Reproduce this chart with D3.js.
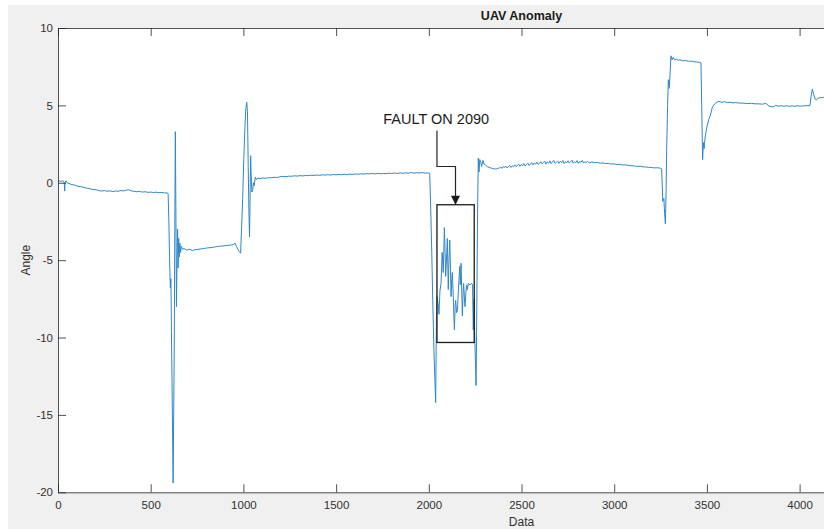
<!DOCTYPE html>
<html>
<head>
<meta charset="utf-8">
<script src="https://cdn.jsdelivr.net/npm/d3@7"></script>
<style>
  html, body { margin: 0; padding: 0; background: #ffffff; }
  svg { display: block; }
  text { font-family: "Liberation Sans", Arial, Helvetica, sans-serif; }
</style>
</head>
<body>
<svg id="chart" width="824" height="529"></svg>
<script>
// ---- chart data ----
const chartTitle = "UAV Anomaly";
const xLabel = "Data";
const yLabel = "Angle";
const xDomain = [0, 5000];
const yDomain = [-20, 10];
const xTicks = [0, 500, 1000, 1500, 2000, 2500, 3000, 3500, 4000];
const yTicks = [-20, -15, -10, -5, 0, 5, 10];

// sample index, angle (degrees)
const angleTrace = [
  [0,0.10],[8,0.12],[16,0.08],[24,0.13],[30,0.10],[34,-0.05],[36,-0.54],[38,0.05],[44,0.12],[49,0.00],
  [60,-0.05],[75,-0.12],[90,-0.15],[105,-0.22],[120,-0.25],[135,-0.28],[147,-0.32],[160,-0.36],[175,-0.40],
  [190,-0.43],[205,-0.45],[220,-0.50],[237,-0.54],[250,-0.50],[265,-0.55],[280,-0.52],[295,-0.57],[310,-0.53],
  [325,-0.55],[340,-0.50],[355,-0.53],[370,-0.47],[381,-0.45],[395,-0.52],[410,-0.55],[425,-0.58],[440,-0.56],
  [455,-0.60],[470,-0.58],[485,-0.62],[500,-0.60],[515,-0.63],[530,-0.61],[545,-0.64],[560,-0.62],[575,-0.66],
  [588,-0.65],[594,-0.70],
  [598,-2.5],[602,-5.0],[606,-6.8],[609,-6.2],[612,-9.6],[616,-14.0],[621,-19.4],[624,-15.0],[627,-10.6],
  [630,-3.0],[633,3.3],[636,-2.0],[639,-8.0],[642,-5.0],[645,-3.0],[648,-5.5],[651,-3.6],[654,-4.8],[657,-3.9],
  [661,-4.5],[665,-4.1],[670,-4.3],[680,-4.25],[695,-4.35],[710,-4.3],[725,-4.38],[740,-4.32],[755,-4.3],
  [770,-4.28],[785,-4.25],[800,-4.22],[815,-4.2],[830,-4.18],[845,-4.15],[860,-4.12],[875,-4.1],[890,-4.08],
  [905,-4.06],[920,-4.04],[935,-4.02],[948,-3.98],[955,-3.9],[962,-4.1],[970,-4.3],[978,-4.45],[985,-4.55],
  [990,-3.0],[996,-1.0],[1002,1.5],[1008,3.5],[1013,4.8],[1018,5.2],[1022,4.6],[1026,1.0],[1030,-2.0],
  [1033,-3.5],[1036,-1.0],[1039,1.75],[1042,0.5],[1046,-0.6],[1050,-0.45],[1054,0.0],[1058,-0.2],[1064,0.37],
  [1070,0.2],[1078,0.3],
  [1090,0.27],[1105,0.31],[1120,0.29],[1135,0.33],[1150,0.32],[1165,0.36],[1180,0.34],[1195,0.38],[1215,0.41],
  [1230,0.39],[1245,0.43],[1260,0.42],[1275,0.45],[1290,0.43],[1305,0.46],[1320,0.44],[1335,0.47],[1350,0.46],
  [1365,0.49],[1380,0.47],[1395,0.50],[1410,0.48],[1425,0.51],[1440,0.50],[1455,0.52],[1470,0.50],[1485,0.53],
  [1500,0.51],[1515,0.54],[1530,0.52],[1545,0.55],[1560,0.53],[1575,0.56],[1590,0.54],[1605,0.57],[1620,0.55],
  [1635,0.58],[1650,0.56],[1665,0.59],[1680,0.57],[1695,0.60],[1710,0.57],[1725,0.61],[1740,0.58],[1755,0.60],
  [1770,0.59],[1785,0.62],[1800,0.60],[1815,0.63],[1830,0.60],[1845,0.64],[1860,0.61],[1875,0.64],[1890,0.62],
  [1905,0.66],[1920,0.62],[1935,0.65],[1950,0.63],[1965,0.66],[1980,0.62],[1995,0.64],[2005,0.60],
  [2010,-1.5],[2016,-4.5],[2022,-8.0],[2028,-11.0],[2037,-14.2],[2041,-9.0],[2044,-7.35],[2050,-7.8],
  [2055,-8.5],[2060,-7.0],[2066,-6.5],[2072,-4.5],[2078,-5.8],[2084,-2.9],[2088,-4.5],[2091,-6.05],[2096,-4.8],
  [2100,-3.6],[2105,-6.9],[2109,-5.0],[2113,-3.7],[2117,-5.6],[2120,-7.35],[2124,-6.2],[2127,-5.8],[2132,-7.4],
  [2138,-9.5],[2142,-8.0],[2145,-7.6],[2150,-8.4],[2155,-8.2],[2160,-6.8],[2164,-6.0],[2167,-5.4],[2170,-6.6],
  [2174,-5.2],[2178,-7.2],[2181,-8.6],[2185,-7.1],[2188,-6.5],[2192,-7.4],[2195,-8.0],[2200,-7.1],[2204,-6.6],
  [2208,-6.9],[2213,-6.5],[2222,-6.6],[2231,-6.5],[2236,-6.6],[2240,-9.5],[2244,-7.5],[2248,-10.0],[2255,-13.1],
  [2259,-8.0],[2263,-2.0],[2267,1.6],
  [2271,0.7],[2275,1.5],[2280,1.35],[2285,1.05],[2292,1.45],[2298,1.2],[2305,1.16],[2315,1.05],[2325,1.0],
  [2335,0.95],[2345,0.92],[2355,0.9],[2362,0.88],[2371,0.93],[2380,0.95],
  [2387,1.02],[2394,0.93],[2401,1.05],[2408,0.98],[2415,1.08],[2422,0.96],[2429,1.04],[2436,1.12],[2443,0.99],
  [2450,1.10],[2457,1.03],[2464,1.16],[2471,1.05],[2478,1.12],[2485,1.20],[2492,1.06],[2499,1.18],[2506,1.10],
  [2513,1.24],[2520,1.08],[2527,1.19],[2534,1.27],[2541,1.12],[2548,1.22],[2555,1.30],[2562,1.15],[2569,1.28],
  [2576,1.20],[2583,1.33],[2590,1.18],[2597,1.26],[2604,1.36],[2611,1.22],[2618,1.31],[2625,1.40],[2632,1.20],
  [2639,1.34],[2646,1.27],[2653,1.42],[2660,1.24],[2667,1.35],[2674,1.45],[2681,1.25],[2688,1.33],[2695,1.40],
  [2702,1.26],[2709,1.38],[2716,1.30],[2723,1.44],[2730,1.24],[2737,1.36],[2744,1.29],[2751,1.42],[2758,1.27],
  [2765,1.37],[2772,1.46],[2779,1.26],[2786,1.35],[2793,1.30],[2800,1.43],[2807,1.25],[2814,1.38],[2821,1.32],
  [2828,1.45],[2835,1.27],[2842,1.36],[2849,1.31],[2856,1.38],[2866,1.30],
  [2880,1.34],[2895,1.3],[2910,1.31],[2925,1.27],[2940,1.28],[2955,1.24],
  [2970,1.25],[2985,1.21],[3000,1.22],[3015,1.18],[3030,1.19],[3045,1.15],[3060,1.16],[3078,1.12],[3095,1.1],
  [3110,1.08],[3125,1.06],[3140,1.07],[3155,1.03],[3170,1.02],[3185,1.0],[3200,0.99],[3215,0.96],[3230,0.97],
  [3245,0.95],[3252,0.93],
  [3256,0.9],[3262,-1.2],[3268,-1.0],[3272,-2.0],[3276,-2.65],[3280,-0.5],[3283,2.1],[3288,5.0],[3292,6.66],
  [3297,6.1],[3301,7.0],[3306,8.2],[3312,7.95],[3318,8.1],[3325,7.95],[3335,7.98],[3345,7.92],[3355,7.95],
  [3370,7.88],[3385,7.9],[3400,7.85],[3415,7.86],[3430,7.82],[3445,7.8],[3460,7.78],[3468,7.75],[3472,5.0],
  [3477,1.49],[3481,2.6],[3485,2.2],[3490,2.9],[3500,3.6],[3510,4.1],[3517,4.3],[3530,4.9],[3542,5.1],
  [3553,5.2],[3565,5.26],[3580,5.2],[3595,5.24],[3610,5.18],[3625,5.2],[3640,5.16],[3655,5.18],[3678,5.15],
  [3700,5.14],[3720,5.12],[3740,5.13],[3760,5.1],[3780,5.1],[3800,5.08],[3815,5.12],[3822,5.1],[3835,4.95],
  [3850,4.92],[3858,4.9],[3870,5.0],[3885,4.95],[3900,4.98],[3915,4.94],[3930,4.98],[3945,4.94],[3960,4.97],
  [3975,4.94],[3990,4.98],[4005,4.95],[4020,4.97],[4038,4.98],[4056,4.98],[4062,5.6],[4069,6.05],[4076,5.7],
  [4084,5.4],[4092,5.36],[4100,5.45],[4110,5.5],[4119,5.5],[4130,5.52],[4140,5.5]
];

// fault annotation, in data units
const faultText = "FAULT ON 2090";
const faultTextAt = [2040, 3.8];
const faultBox = { x0: 2044, x1: 2245, yTop: -1.42, yBottom: -10.32 };
const faultArrow = [[2044, 3.38], [2044, 1.05], [2144, 1.05], [2144, -1.42]];

// ---- layout ----
const W = 824, H = 529;
const plot = { left: 58, top: 28, right: 985, bottom: 492.3 };
const axisColor = "#262626";

const svg = d3.select("#chart");

// figure background
svg.append("rect").attr("x", 0).attr("y", 0).attr("width", W).attr("height", H).attr("fill", "#ffffff");
svg.append("rect").attr("x", 8).attr("y", 5).attr("width", W - 8).attr("height", H - 5).attr("fill", "#f0f0f0");

const x = d3.scaleLinear().domain(xDomain).range([plot.left, plot.right]);
const y = d3.scaleLinear().domain(yDomain).range([plot.bottom, plot.top]);

// axes background
svg.append("rect")
  .attr("x", plot.left).attr("y", plot.top)
  .attr("width", plot.right - plot.left).attr("height", plot.bottom - plot.top)
  .attr("fill", "#ffffff");

svg.append("defs").append("clipPath").attr("id", "plotClip")
  .append("rect")
  .attr("x", plot.left).attr("y", plot.top)
  .attr("width", plot.right - plot.left).attr("height", plot.bottom - plot.top);

// data line
const line = d3.line().x(d => x(d[0])).y(d => y(d[1]));
svg.append("path")
  .datum(angleTrace)
  .attr("clip-path", "url(#plotClip)")
  .attr("fill", "none")
  .attr("stroke", "#2f86c8")
  .attr("stroke-width", 1)
  .attr("stroke-linejoin", "round")
  .attr("d", line);

// axes (MATLAB-style inward ticks on all four sides)
const tickLen = 8;
function styleAxis(g) {
  g.select(".domain").attr("stroke", axisColor).attr("stroke-width", 0.8);
  g.selectAll(".tick line").attr("stroke", axisColor).attr("stroke-width", 0.8);
  g.selectAll(".tick text")
    .attr("fill", "#303030")
    .style("font-size", "11.5px")
    .style("font-family", "'Liberation Sans', Arial, sans-serif");
}

svg.append("g")
  .attr("transform", `translate(0,${plot.bottom})`)
  .call(d3.axisBottom(x).tickValues(xTicks).tickFormat(d3.format("d"))
    .tickSizeInner(-tickLen).tickSizeOuter(0).tickPadding(8.8))
  .call(styleAxis);

svg.append("g")
  .attr("transform", `translate(0,${plot.top})`)
  .call(d3.axisTop(x).tickValues(xTicks).tickFormat("")
    .tickSizeInner(-tickLen).tickSizeOuter(0))
  .call(styleAxis);

svg.append("g")
  .attr("transform", `translate(${plot.left},0)`)
  .call(d3.axisLeft(y).tickValues(yTicks).tickFormat(d3.format("d"))
    .tickSizeInner(-tickLen).tickSizeOuter(0).tickPadding(5))
  .call(styleAxis);

svg.append("g")
  .attr("transform", `translate(${plot.right},0)`)
  .call(d3.axisRight(y).tickValues(yTicks).tickFormat("")
    .tickSizeInner(-tickLen).tickSizeOuter(0))
  .call(styleAxis);

// plain hyphen-minus on negative labels
svg.selectAll(".tick text").text(function () { return d3.select(this).text().replace("\u2212", "-"); });

// title and axis labels
svg.append("text")
  .attr("x", (plot.left + plot.right) / 2).attr("y", 19.5)
  .attr("text-anchor", "middle")
  .attr("fill", "#1a1a1a")
  .style("font-size", "12.5px").style("font-weight", "bold")
  .text(chartTitle);

svg.append("text")
  .attr("x", (plot.left + plot.right) / 2).attr("y", 526)
  .attr("text-anchor", "middle")
  .attr("fill", "#303030")
  .style("font-size", "12px")
  .text(xLabel);

svg.append("text")
  .attr("transform", `translate(29.5,${(plot.top + plot.bottom) / 2}) rotate(-90)`)
  .attr("text-anchor", "middle")
  .attr("fill", "#303030")
  .style("font-size", "12px")
  .text(yLabel);

// fault annotation
svg.append("rect")
  .attr("x", x(faultBox.x0)).attr("y", y(faultBox.yTop))
  .attr("width", x(faultBox.x1) - x(faultBox.x0))
  .attr("height", y(faultBox.yBottom) - y(faultBox.yTop))
  .attr("fill", "none").attr("stroke", "#1a1a1a").attr("stroke-width", 1.3);

svg.append("defs").append("marker")
  .attr("id", "arrowHead")
  .attr("viewBox", "0 0 10 10")
  .attr("refX", 10).attr("refY", 5)
  .attr("markerUnits", "userSpaceOnUse")
  .attr("markerWidth", 10).attr("markerHeight", 9)
  .attr("orient", "auto")
  .append("path").attr("d", "M0,0 L10,5 L0,10 Z").attr("fill", "#1a1a1a");

svg.append("path")
  .attr("d", d3.line().x(d => x(d[0])).y(d => y(d[1]))(faultArrow))
  .attr("fill", "none").attr("stroke", "#262626").attr("stroke-width", 1.2)
  .attr("marker-end", "url(#arrowHead)");

svg.append("text")
  .attr("x", x(faultTextAt[0])).attr("y", y(faultTextAt[1]))
  .attr("text-anchor", "middle")
  .attr("fill", "#1a1a1a")
  .style("font-size", "14.5px")
  .text(faultText);
</script>
</body>
</html>
